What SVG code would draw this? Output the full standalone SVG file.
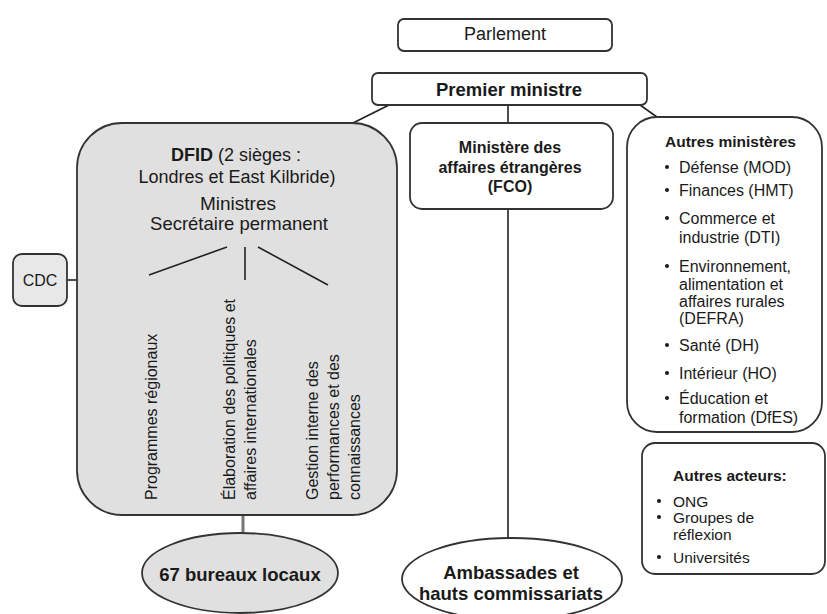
<svg xmlns="http://www.w3.org/2000/svg" width="827" height="614" viewBox="0 0 827 614">
<style>
text{font-family:"Liberation Sans",Arial,sans-serif;fill:#1a1a1a}
.box{fill:#fff;stroke:#333;stroke-width:1.8}
.grey{fill:#e0e0e0;stroke:#333;stroke-width:1.8}
.ln{fill:none;stroke:#222;stroke-width:1.6}
.b{font-weight:bold}
.c{text-anchor:middle}
.rot{font-size:16px}
.li{font-size:16px}
.la{font-size:15.5px}
</style>
<g id="connectors">
<polyline class="ln" points="389,105 353,123"/>
<line class="ln" x1="508" y1="105" x2="508" y2="123"/>
<polyline class="ln" points="640,105 657,117"/>
<line class="ln" x1="508" y1="209" x2="508" y2="538"/>
<line class="ln" x1="67" y1="280" x2="77" y2="280"/>
<line x1="243" y1="515" x2="243" y2="534" stroke="#777" stroke-width="3"/>
</g>
<g id="parlement">
<rect class="box" x="398" y="19" width="214" height="32" rx="6"/>
<text class="c" x="505" y="40" font-size="18">Parlement</text>
</g>
<g id="premier">
<rect class="box" x="372" y="73" width="275" height="32" rx="6"/>
<text class="c b" x="509" y="96" font-size="18.5">Premier ministre</text>
</g>
<g id="dfid">
<rect class="grey" x="77" y="123" width="320" height="392" rx="45"/>
<text class="c" x="236" y="161" font-size="18"><tspan class="b">DFID</tspan> (2 sièges :</text>
<text class="c" x="237" y="183" font-size="18">Londres et East Kilbride)</text>
<text class="c" x="238" y="210" font-size="19">Ministres</text>
<text class="c" x="239" y="230" font-size="18.5">Secrétaire permanent</text>
<line class="ln" x1="227" y1="247" x2="149" y2="275"/>
<line class="ln" x1="245" y1="247" x2="245" y2="280"/>
<line class="ln" x1="258" y1="247" x2="328" y2="285"/>
<text class="rot" transform="translate(157,500) rotate(-90)">Programmes régionaux</text>
<text class="rot" transform="translate(235,500) rotate(-90)">Élaboration des politiques et</text>
<text class="rot" transform="translate(256,500) rotate(-90)">affaires internationales</text>
<text class="rot" transform="translate(318,500) rotate(-90)">Gestion interne des</text>
<text class="rot" transform="translate(339,500) rotate(-90)">performances et des</text>
<text class="rot" transform="translate(360,500) rotate(-90)">connaissances</text>
</g>
<g id="cdc">
<rect x="13" y="254" width="54" height="52" rx="9" fill="#e8e8e8" stroke="#333" stroke-width="1.8"/>
<text class="c" x="40" y="286" font-size="16">CDC</text>
</g>
<g id="fco">
<rect class="box" x="410" y="123" width="203" height="86" rx="12"/>
<text class="c b" x="510" y="153" font-size="16">Ministère des</text>
<text class="c b" x="510" y="173" font-size="16">affaires étrangères</text>
<text class="c b" x="510" y="192" font-size="16">(FCO)</text>
</g>
<g id="autres-ministeres">
<rect class="box" x="627" y="117" width="195" height="315" rx="30"/>
<text class="b" x="665" y="147" font-size="15.5">Autres ministères</text>
<g fill="#1a1a1a">
<circle cx="667" cy="167" r="2"/><circle cx="667" cy="190" r="2"/><circle cx="667" cy="218" r="2"/><circle cx="667" cy="266" r="2"/><circle cx="667" cy="345" r="2"/><circle cx="667" cy="373" r="2"/><circle cx="667" cy="398" r="2"/>
</g>
<text class="li" x="679" y="173">Défense (MOD)</text>
<text class="li" x="679" y="196">Finances (HMT)</text>
<text class="li" x="679" y="224">Commerce et</text>
<text class="li" x="679" y="243">industrie (DTI)</text>
<text class="li" x="679" y="272">Environnement,</text>
<text class="li" x="679" y="290">alimentation et</text>
<text class="li" x="679" y="307">affaires rurales</text>
<text class="li" x="679" y="324">(DEFRA)</text>
<text class="li" x="679" y="351">Santé (DH)</text>
<text class="li" x="679" y="379">Intérieur (HO)</text>
<text class="li" x="679" y="404">Éducation et</text>
<text class="li" x="679" y="423">formation (DfES)</text>
</g>
<g id="autres-acteurs">
<rect class="box" x="642" y="443" width="183" height="131" rx="13"/>
<text class="b" x="673" y="481" font-size="15.5">Autres acteurs:</text>
<g fill="#1a1a1a"><circle cx="659" cy="501" r="2"/><circle cx="659" cy="517" r="2"/><circle cx="659" cy="557" r="2"/></g>
<text class="la" x="673" y="507">ONG</text>
<text class="la" x="673" y="523">Groupes de</text>
<text class="la" x="673" y="540">réflexion</text>
<text class="la" x="673" y="563">Universités</text>
</g>
<g id="bureaux">
<ellipse class="grey" cx="240" cy="573" rx="98" ry="40"/>
<text class="c b" x="240" y="581" font-size="18.5">67 bureaux locaux</text>
</g>
<g id="ambassades">
<ellipse class="box" cx="512" cy="579" rx="110" ry="41"/>
<text class="c b" x="511" y="579" font-size="18.5">Ambassades et</text>
<text class="c b" x="511" y="600" font-size="18.5">hauts commissariats</text>
</g>
</svg>
